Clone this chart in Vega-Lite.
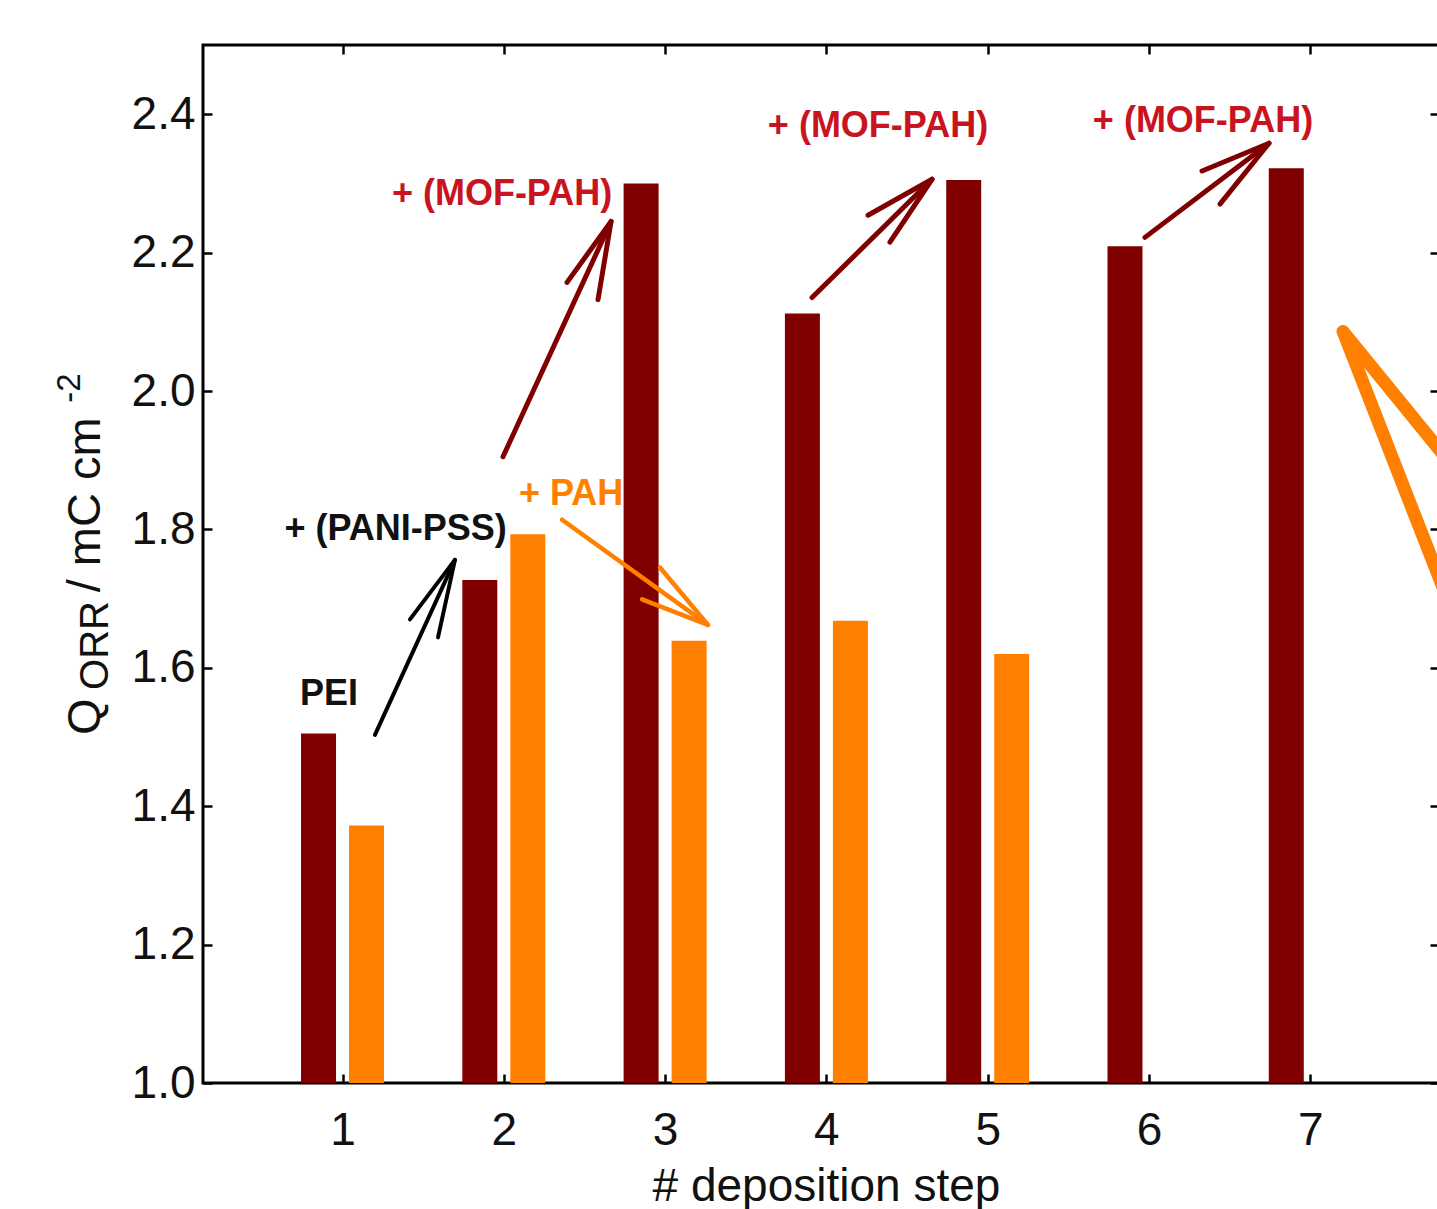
{
  "$schema": "https://vega.github.io/schema/vega-lite/v6.json",
  "width": 1236,
  "height": 1038,
  "autosize": {"type": "none"},
  "padding": {"left": 203, "top": 45, "right": 0, "bottom": 126},
  "background": "white",
  "config": {
    "view": {"stroke": "black", "strokeWidth": 3},
    "axis": {"grid": false, "domain": false},
    "scale": {"continuousPadding": 0}
  },
  "datasets": {
    "bars": [
      {"step": 1, "series": "MOF-PAH", "q": 1.505},
      {"step": 2, "series": "MOF-PAH", "q": 1.727},
      {"step": 3, "series": "MOF-PAH", "q": 2.300},
      {"step": 4, "series": "MOF-PAH", "q": 2.112},
      {"step": 5, "series": "MOF-PAH", "q": 2.305},
      {"step": 6, "series": "MOF-PAH", "q": 2.209},
      {"step": 7, "series": "MOF-PAH", "q": 2.322},
      {"step": 1, "series": "PAH", "q": 1.372},
      {"step": 2, "series": "PAH", "q": 1.793},
      {"step": 3, "series": "PAH", "q": 1.639},
      {"step": 4, "series": "PAH", "q": 1.668},
      {"step": 5, "series": "PAH", "q": 1.620}
    ],
    "arrows": [
      {"group": "black", "part": "b_shaft", "ord": 0, "x": 1.201, "y": 1.503},
      {"group": "black", "part": "b_shaft", "ord": 1, "x": 1.697, "y": 1.756},
      {"group": "black", "part": "b_head", "ord": 0, "x": 1.418, "y": 1.670},
      {"group": "black", "part": "b_head", "ord": 1, "x": 1.697, "y": 1.756},
      {"group": "black", "part": "b_head", "ord": 2, "x": 1.592, "y": 1.644},
      {"group": "orange", "part": "o_shaft", "ord": 0, "x": 2.361, "y": 1.814},
      {"group": "orange", "part": "o_shaft", "ord": 1, "x": 3.266, "y": 1.662},
      {"group": "orange", "part": "o_head", "ord": 0, "x": 2.968, "y": 1.745},
      {"group": "orange", "part": "o_head", "ord": 1, "x": 3.266, "y": 1.662},
      {"group": "orange", "part": "o_head", "ord": 2, "x": 2.857, "y": 1.699},
      {"group": "red", "part": "r1_shaft", "ord": 0, "x": 1.995, "y": 1.905},
      {"group": "red", "part": "r1_shaft", "ord": 1, "x": 2.665, "y": 2.245},
      {"group": "red", "part": "r1_head", "ord": 0, "x": 2.392, "y": 2.157},
      {"group": "red", "part": "r1_head", "ord": 1, "x": 2.665, "y": 2.245},
      {"group": "red", "part": "r1_head", "ord": 2, "x": 2.584, "y": 2.132},
      {"group": "red", "part": "r2_shaft", "ord": 0, "x": 3.911, "y": 2.135},
      {"group": "red", "part": "r2_shaft", "ord": 1, "x": 4.655, "y": 2.306},
      {"group": "red", "part": "r2_head", "ord": 0, "x": 4.258, "y": 2.254},
      {"group": "red", "part": "r2_head", "ord": 1, "x": 4.655, "y": 2.306},
      {"group": "red", "part": "r2_head", "ord": 2, "x": 4.394, "y": 2.215},
      {"group": "red", "part": "r3_shaft", "ord": 0, "x": 5.975, "y": 2.222},
      {"group": "red", "part": "r3_shaft", "ord": 1, "x": 6.744, "y": 2.358},
      {"group": "red", "part": "r3_head", "ord": 0, "x": 6.329, "y": 2.318},
      {"group": "red", "part": "r3_head", "ord": 1, "x": 6.744, "y": 2.358},
      {"group": "red", "part": "r3_head", "ord": 2, "x": 6.440, "y": 2.270},
      {"group": "big", "part": "big", "ord": 0, "x": 8.176, "y": 1.808},
      {"group": "big", "part": "big", "ord": 1, "x": 7.203, "y": 2.086},
      {"group": "big", "part": "big", "ord": 2, "x": 8.176, "y": 1.505}
    ],
    "labels": [
      {"group": "black", "label": "PEI", "x": 0.916, "y": 1.546},
      {"group": "black", "label": "+ (PANI-PSS)", "x": 1.329, "y": 1.785},
      {"group": "orange", "label": "+ PAH", "x": 2.417, "y": 1.835},
      {"group": "red", "label": "+ (MOF-PAH)", "x": 1.989, "y": 2.269},
      {"group": "red", "label": "+ (MOF-PAH)", "x": 4.320, "y": 2.367},
      {"group": "red", "label": "+ (MOF-PAH)", "x": 6.335, "y": 2.374}
    ],
    "ytitle": [
      {"size": "main", "label": "Q", "x": -0.504, "y": 1.503},
      {"size": "sub", "label": "ORR", "x": -0.454, "y": 1.568},
      {"size": "main", "label": "/ mC cm", "x": -0.504, "y": 1.709},
      {"size": "sup", "label": "-2", "x": -0.628, "y": 1.983}
    ]
  },
  "layer": [
    {
      "data": {"name": "bars"},
      "transform": [{"filter": "datum.series === 'MOF-PAH'"}],
      "mark": {"type": "bar", "orient": "vertical", "width": 35, "xOffset": -24, "color": "#800000"},
      "encoding": {
        "x": {"field": "step", "type": "quantitative", "scale": {"domain": [0.135, 7.798], "nice": false, "zero": false, "padding": 0},
          "axis": {"orient": "bottom", "values": [1, 2, 3, 4, 5, 6, 7], "format": "d", "labelFont": "Liberation Sans", "labelFontSize": 46, "labelColor": "#111", "labelFlush": false, "labelOverlap": false, "tickColor": "black", "tickSize": -9, "tickWidth": 2.5, "labelPadding": 34,
            "title": "# deposition step", "titleFont": "Liberation Sans", "titleFontSize": 46, "titleFontWeight": "normal", "titleColor": "#111", "titleY": 117, "titleX": 623, "titleAlign": "center", "titleBaseline": "alphabetic"}},
        "y": {"field": "q", "type": "quantitative", "scale": {"domain": [1, 2.5], "nice": false, "zero": false, "padding": 0},
          "axis": {"orient": "left", "values": [1, 1.2, 1.4, 1.6, 1.8, 2, 2.2, 2.4], "format": ".1f", "labelFont": "Liberation Sans", "labelFontSize": 46, "labelColor": "#111", "labelFlush": false, "labelOverlap": false, "tickColor": "black", "tickSize": -9, "tickWidth": 2.5, "labelPadding": 17, "title": null}},
        "y2": {"datum": 1}
      }
    },
    {
      "data": {"name": "bars"},
      "transform": [{"filter": "datum.series === 'PAH'"}],
      "mark": {"type": "bar", "orient": "vertical", "width": 35, "xOffset": 24, "color": "#ff8000"},
      "encoding": {
        "x": {"field": "step", "type": "quantitative", "scale": {"domain": [0.135, 7.798], "nice": false, "zero": false, "padding": 0},
          "axis": {"orient": "top", "values": [1, 2, 3, 4, 5, 6, 7], "labels": false, "tickColor": "black", "tickSize": -9, "tickWidth": 2.5, "title": null}},
        "y": {"field": "q", "type": "quantitative", "scale": {"domain": [1, 2.5], "nice": false, "zero": false, "padding": 0},
          "axis": {"orient": "right", "values": [1, 1.2, 1.4, 1.6, 1.8, 2, 2.2, 2.4], "labels": false, "tickColor": "black", "tickSize": -9, "tickWidth": 2.5, "title": null}},
        "y2": {"datum": 1}
      }
    },
    {
      "data": {"name": "arrows"},
      "transform": [{"filter": "datum.group === 'black'"}],
      "mark": {"type": "line", "color": "#000000", "strokeWidth": 4, "strokeCap": "round", "strokeJoin": "round"},
      "encoding": {
        "x": {"field": "x", "type": "quantitative", "scale": {"domain": [0.135, 7.798], "nice": false, "zero": false, "padding": 0}, "axis": null},
        "y": {"field": "y", "type": "quantitative", "scale": {"domain": [1, 2.5], "nice": false, "zero": false, "padding": 0}, "axis": null},
        "detail": {"field": "part"},
        "order": {"field": "ord"}
      }
    },
    {
      "data": {"name": "arrows"},
      "transform": [{"filter": "datum.group === 'orange'"}],
      "mark": {"type": "line", "color": "#ff8000", "strokeWidth": 4.5, "strokeCap": "round", "strokeJoin": "round"},
      "encoding": {
        "x": {"field": "x", "type": "quantitative", "scale": {"domain": [0.135, 7.798], "nice": false, "zero": false, "padding": 0}, "axis": null},
        "y": {"field": "y", "type": "quantitative", "scale": {"domain": [1, 2.5], "nice": false, "zero": false, "padding": 0}, "axis": null},
        "detail": {"field": "part"},
        "order": {"field": "ord"}
      }
    },
    {
      "data": {"name": "arrows"},
      "transform": [{"filter": "datum.group === 'red'"}],
      "mark": {"type": "line", "color": "#800000", "strokeWidth": 5, "strokeCap": "round", "strokeJoin": "round"},
      "encoding": {
        "x": {"field": "x", "type": "quantitative", "scale": {"domain": [0.135, 7.798], "nice": false, "zero": false, "padding": 0}, "axis": null},
        "y": {"field": "y", "type": "quantitative", "scale": {"domain": [1, 2.5], "nice": false, "zero": false, "padding": 0}, "axis": null},
        "detail": {"field": "part"},
        "order": {"field": "ord"}
      }
    },
    {
      "data": {"name": "arrows"},
      "transform": [{"filter": "datum.group === 'big'"}],
      "mark": {"type": "line", "color": "#ff8000", "strokeWidth": 13, "strokeCap": "round", "strokeJoin": "round", "clip": false},
      "encoding": {
        "x": {"field": "x", "type": "quantitative", "scale": {"domain": [0.135, 7.798], "nice": false, "zero": false, "padding": 0}, "axis": null},
        "y": {"field": "y", "type": "quantitative", "scale": {"domain": [1, 2.5], "nice": false, "zero": false, "padding": 0}, "axis": null},
        "detail": {"field": "part"},
        "order": {"field": "ord"}
      }
    },
    {
      "data": {"name": "labels"},
      "transform": [{"filter": "datum.group === 'black'"}],
      "mark": {"type": "text", "font": "Liberation Sans", "fontWeight": "bold", "fontSize": 36, "color": "#111111", "align": "center", "baseline": "alphabetic"},
      "encoding": {
        "x": {"field": "x", "type": "quantitative", "scale": {"domain": [0.135, 7.798], "nice": false, "zero": false, "padding": 0}, "axis": null},
        "y": {"field": "y", "type": "quantitative", "scale": {"domain": [1, 2.5], "nice": false, "zero": false, "padding": 0}, "axis": null},
        "text": {"field": "label"}
      }
    },
    {
      "data": {"name": "labels"},
      "transform": [{"filter": "datum.group === 'orange'"}],
      "mark": {"type": "text", "font": "Liberation Sans", "fontWeight": "bold", "fontSize": 36, "color": "#ff8000", "align": "center", "baseline": "alphabetic"},
      "encoding": {
        "x": {"field": "x", "type": "quantitative", "scale": {"domain": [0.135, 7.798], "nice": false, "zero": false, "padding": 0}, "axis": null},
        "y": {"field": "y", "type": "quantitative", "scale": {"domain": [1, 2.5], "nice": false, "zero": false, "padding": 0}, "axis": null},
        "text": {"field": "label"}
      }
    },
    {
      "data": {"name": "labels"},
      "transform": [{"filter": "datum.group === 'red'"}],
      "mark": {"type": "text", "font": "Liberation Sans", "fontWeight": "bold", "fontSize": 36, "color": "#c8141e", "align": "center", "baseline": "alphabetic"},
      "encoding": {
        "x": {"field": "x", "type": "quantitative", "scale": {"domain": [0.135, 7.798], "nice": false, "zero": false, "padding": 0}, "axis": null},
        "y": {"field": "y", "type": "quantitative", "scale": {"domain": [1, 2.5], "nice": false, "zero": false, "padding": 0}, "axis": null},
        "text": {"field": "label"}
      }
    },
    {
      "data": {"name": "ytitle"},
      "mark": {"type": "text", "font": "Liberation Sans", "color": "#111111", "angle": 270, "align": "left", "baseline": "alphabetic"},
      "encoding": {
        "x": {"field": "x", "type": "quantitative", "scale": {"domain": [0.135, 7.798], "nice": false, "zero": false, "padding": 0}, "axis": null},
        "y": {"field": "y", "type": "quantitative", "scale": {"domain": [1, 2.5], "nice": false, "zero": false, "padding": 0}, "axis": null},
        "text": {"field": "label"},
        "size": {"field": "size", "type": "nominal", "scale": {"domain": ["main", "sub", "sup"], "range": [47, 33, 30]}, "legend": null}
      }
    }
  ],
  "resolve": {"axis": {"x": "independent", "y": "independent"}}
}
